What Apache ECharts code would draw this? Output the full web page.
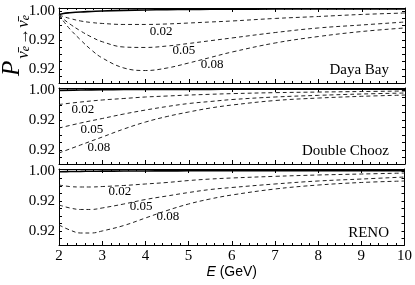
<!DOCTYPE html>
<html><head><meta charset="utf-8">
<script src="https://cdn.jsdelivr.net/npm/echarts@6/dist/echarts.min.js"></script>
<style>html,body{margin:0;padding:0;background:#fff}#c{width:415px;height:285px}</style>
</head><body><div id="c"></div>
<script>
// ---- data ----
const panelNames = ['Daya Bay', 'Double Chooz', 'RENO'];
const curveNames = ['0.02', '0.05', '0.08'];
const xTickLabels = ['2','3','4','5','6','7','8','9','10'];
const yTickValues = [0.92, 0.96, 1.00];
const yTickLabels = ['0.92', '0.92', '1.00'];
const yMinorTicks = [0.91, 0.92, 0.93, 0.94, 0.95, 0.96, 0.97, 0.98, 0.99, 1.00];

const energyDB = [2, 2.1, 2.25, 2.5, 2.75, 3, 3.5, 4, 4.5, 5, 5.5, 6, 7, 8, 9, 10];
const pDBsolid = [0.9952, 0.9966, 0.9975, 0.9986, 0.9993, 1.0000, 1.0008, 1.0014, 1.0018, 1.0021, 1.0023, 1.0025, 1.0027, 1.0028, 1.0028, 1.0028];
const pDB002 = [0.9945, 0.9924, 0.9897, 0.9862, 0.9841, 0.9828, 0.9814, 0.9814, 0.9821, 0.9834, 0.9848, 0.9862, 0.9897, 0.9924, 0.9952, 0.9972];
const pDB005 = [0.9945, 0.9890, 0.9821, 0.9724, 0.9641, 0.9576, 0.9503, 0.9497, 0.9517, 0.9552, 0.9590, 0.9628, 0.9703, 0.9766, 0.9807, 0.9848];
const pDB008 = [0.9945, 0.9862, 0.9752, 0.9600, 0.9462, 0.9352, 0.9214, 0.9179, 0.9214, 0.9283, 0.9359, 0.9434, 0.9559, 0.9648, 0.9717, 0.9766];

const energyDC = [2, 2.5, 3, 3.5, 4, 4.5, 5, 5.5, 6, 7, 8, 9, 10];
const pDCsolid = [0.9995, 1.0000, 1.0004, 1.0006, 1.0008, 1.0008, 1.0009, 1.0009, 1.0010, 1.0010, 1.0010, 1.0010, 1.0010];
const pDC002 = [0.9807, 0.9840, 0.9867, 0.9887, 0.9907, 0.9920, 0.9933, 0.9943, 0.9952, 0.9965, 0.9973, 0.9980, 0.9987];
const pDC005 = [0.9493, 0.9560, 0.9620, 0.9680, 0.9733, 0.9780, 0.9820, 0.9847, 0.9873, 0.9907, 0.9929, 0.9947, 0.9960];
const pDC008 = [0.9160, 0.9267, 0.9373, 0.9480, 0.9573, 0.9647, 0.9707, 0.9760, 0.9800, 0.9860, 0.9893, 0.9916, 0.9933];

const energyRN = [2, 2.25, 2.5, 2.75, 3, 3.5, 4, 4.5, 5, 5.5, 6, 7, 8, 9, 10];
const pRNsolid = [0.9990, 0.9993, 0.9995, 0.9997, 0.9998, 1.0000, 1.0001, 1.0002, 1.0003, 1.0003, 1.0004, 1.0004, 1.0004, 1.0004, 1.0004];
const pRN002 = [0.9813, 0.9793, 0.9787, 0.9787, 0.9793, 0.9807, 0.9827, 0.9847, 0.9873, 0.9893, 0.9907, 0.9929, 0.9947, 0.9960, 0.9973];
const pRN005 = [0.9547, 0.9507, 0.9487, 0.9487, 0.9507, 0.9560, 0.9620, 0.9667, 0.9713, 0.9753, 0.9780, 0.9827, 0.9867, 0.9893, 0.9920];
const pRN008 = [0.9280, 0.9213, 0.9173, 0.9173, 0.9200, 0.9273, 0.9373, 0.9473, 0.9560, 0.9627, 0.9680, 0.9760, 0.9813, 0.9847, 0.9867];

const labelDB = [[4.36, 0.9710], [4.89, 0.9448], [5.54, 0.9255]];
const labelDC = [[2.55, 0.9733], [2.76, 0.9467], [2.92, 0.9227]];
const labelRN = [[3.41, 0.9720], [3.90, 0.9520], [4.52, 0.9387]];

// ---- layout ----
const SERIF = '"Liberation Serif", "DejaVu Serif", serif';
const SANS = '"Liberation Sans", Arial, sans-serif';
const panels = [
  {top: 8, height: 75, ymin: 0.9007, ymax: 1.0041, E: energyDB, solid: pDBsolid, curves: [pDB002, pDB005, pDB008], labels: labelDB, nameTop: 63},
  {top: 88, height: 76, ymin: 0.9013, ymax: 1.0027, E: energyDC, solid: pDCsolid, curves: [pDC002, pDC005, pDC008], labels: labelDC, nameTop: 144},
  {top: 169, height: 76, ymin: 0.9013, ymax: 1.0027, E: energyRN, solid: pRNsolid, curves: [pRN002, pRN005, pRN008], labels: labelRN, nameTop: 226}
];

const grid = [], xAxis = [], yAxis = [], series = [], graphic = [];
const lineC = '#000';
function findLabel(v) {
  const i = yTickValues.findIndex(t => Math.abs(t - v) < 1e-6);
  return i >= 0 ? yTickLabels[i] : '';
}
panels.forEach((p, i) => {
  grid.push({left: 59, right: 10, top: p.top, height: p.height, show: false});
  const isLast = i === panels.length - 1;
  const xBase = {
    type: 'value', gridIndex: i, min: 2, max: 10, interval: 1,
    axisLine: {onZero: false, lineStyle: {color: lineC, width: 1}},
    axisTick: {inside: true, length: 4, lineStyle: {color: lineC}},
    minorTick: {show: true, splitNumber: 5, length: 2, lineStyle: {color: lineC}},
    splitLine: {show: false}
  };
  xAxis.push(Object.assign({}, xBase, {
    position: 'bottom',
    axisLabel: {show: isLast, fontFamily: SERIF, fontSize: 15, color: '#000', margin: 4,
      formatter: v => xTickLabels[Math.round(v) - 2]},
    name: isLast ? '{i|E} (GeV)' : '',
    nameLocation: 'middle', nameGap: 19,
    nameTextStyle: {fontFamily: SANS, fontSize: 14, color: '#000',
      rich: {i: {fontFamily: SANS, fontSize: 14, fontStyle: 'italic', color: '#000'}}}
  }));
  xAxis.push(Object.assign({}, xBase, {position: 'top', axisLabel: {show: false}}));
  const yBase = {
    type: 'value', gridIndex: i, min: p.ymin, max: p.ymax,
    axisLine: {onZero: false, lineStyle: {color: lineC, width: 1}},
    axisTick: {inside: true, length: 3, customValues: yMinorTicks, lineStyle: {color: lineC}},
    splitLine: {show: false}
  };
  yAxis.push(Object.assign({}, yBase, {
    position: 'left',
    axisLabel: {show: true, customValues: yTickValues, fontFamily: SERIF, fontSize: 15, color: '#000', margin: 4,
      formatter: v => findLabel(v)}
  }));
  yAxis.push(Object.assign({}, yBase, {position: 'right', axisLabel: {show: false}}));

  const xi = i * 2, yi = i * 2;
  series.push({
    type: 'line', xAxisIndex: xi, yAxisIndex: yi, symbol: 'none', smooth: 0.4,
    data: p.E.map((e, k) => [e, p.solid[k]]),
    lineStyle: {color: '#000', width: 1.6}, silent: true, z: 3
  });
  p.curves.forEach((c, j) => {
    series.push({
      type: 'line', xAxisIndex: xi, yAxisIndex: yi, symbol: 'none', smooth: 0.4,
      data: p.E.map((e, k) => [e, c[k]]),
      lineStyle: {color: '#222', width: 1, type: [4, 3]}, silent: true,
      markPoint: {
        symbol: 'circle', symbolSize: 0, silent: true,
        data: [{coord: p.labels[j]}],
        label: {show: true, position: 'inside', formatter: curveNames[j], fontFamily: SERIF, fontSize: 13, color: '#000'}
      }
    });
  });
  graphic.push({type: 'text', right: 26, top: p.nameTop, style: {text: panelNames[i], font: '15px ' + SERIF, fill: '#000'}});
});

graphic.push({
  type: 'text', x: 16, y: 45, rotation: Math.PI / 2,
  style: {
    text: '{p|P}{s|ν̄}{t|e}{s|→ν̄}{t|e}',
    align: 'center', verticalAlign: 'middle', fill: '#000',
    rich: {
      p: {fontFamily: SERIF, fontSize: 25, fontStyle: 'italic', padding: [0, 2, 7, 0], verticalAlign: 'top'},
      s: {fontFamily: SERIF, fontSize: 17, fontStyle: 'italic', verticalAlign: 'bottom'},
      t: {fontFamily: SERIF, fontSize: 12, fontStyle: 'italic', verticalAlign: 'bottom', padding: [0, 1, 0, 0]}
    }
  }
});

const chart = echarts.init(document.getElementById('c'), null, {renderer: 'canvas'});
chart.setOption({animation: false, grid, xAxis, yAxis, series, graphic});
</script></body></html>
